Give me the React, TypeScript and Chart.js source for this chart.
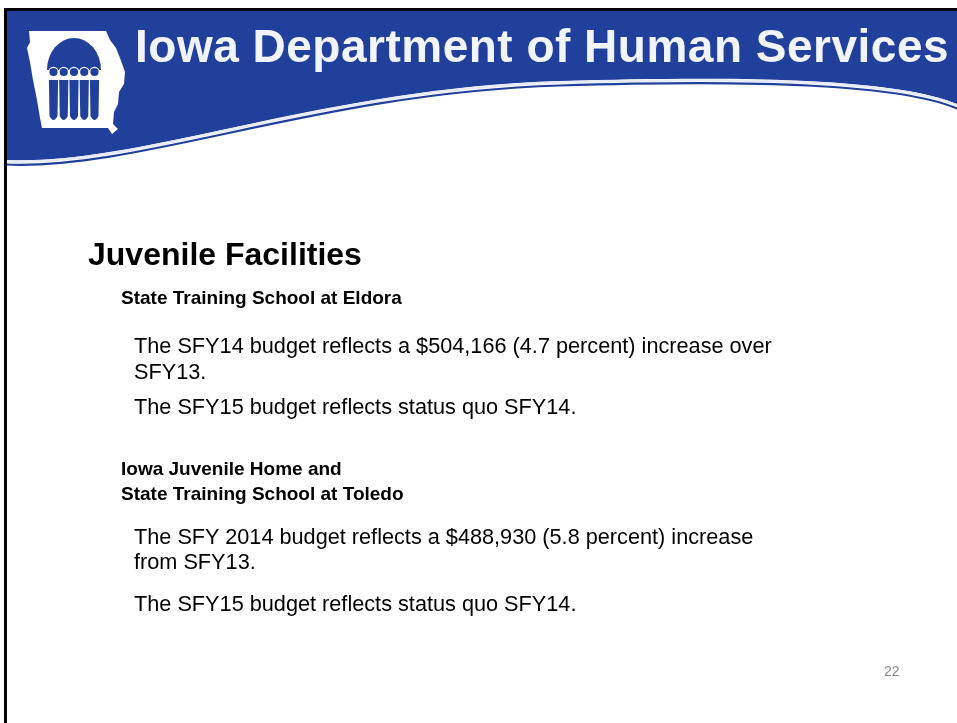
import React, { useEffect, useRef } from "react";
import { Chart, registerables } from "chart.js";

Chart.register(...registerables);

// ---- Slide content (data) ----
const bannerTitle = "Iowa Department of Human Services";
const slideTitle = "Juvenile Facilities";
const eldoraHeading = ["State Training School at Eldora"];
const eldoraParagraphs = [
  ["The SFY14 budget reflects a $504,166 (4.7 percent) increase over", "SFY13."],
  ["The SFY15 budget reflects status quo SFY14."],
];
const toledoHeading = ["Iowa Juvenile Home and", "State Training School at Toledo"];
const toledoParagraphs = [
  ["The SFY 2014 budget reflects a $488,930 (5.8 percent) increase", "from SFY13."],
  ["The SFY15 budget reflects status quo SFY14."],
];
const slideNumber = "22";

const W = 957;
const H = 723;
const BLUE = "#21409c";
const FONT = "'Liberation Sans', Arial, Helvetica, sans-serif";

const bannerPlugin = {
  id: "slideBanner",
  beforeDraw(chart: any) {
    const ctx = chart.ctx as CanvasRenderingContext2D;
    ctx.save();
    ctx.fillStyle = "#ffffff";
    ctx.fillRect(0, 0, W, H);

    // blue banner with wavy bottom edge
    const edge = (c: CanvasRenderingContext2D, dy: number) => {
      c.moveTo(6, 160 + dy);
      c.bezierCurveTo(140, 166 + dy, 320, 88 + dy, 560, 81 + dy);
      c.bezierCurveTo(760, 75 + dy, 900, 80 + dy, 957, 104 + dy);
    };
    ctx.beginPath();
    ctx.moveTo(6, 10);
    ctx.lineTo(W, 10);
    ctx.lineTo(W, 104);
    ctx.bezierCurveTo(900, 80, 760, 75, 560, 81);
    ctx.bezierCurveTo(320, 88, 140, 166, 6, 160);
    ctx.closePath();
    ctx.fillStyle = BLUE;
    ctx.fill();

    // white highlight + thin blue underline
    ctx.beginPath();
    edge(ctx, 1.5);
    ctx.strokeStyle = "#e8ecf8";
    ctx.lineWidth = 2.5;
    ctx.stroke();
    ctx.beginPath();
    edge(ctx, 4.5);
    ctx.strokeStyle = BLUE;
    ctx.lineWidth = 2.2;
    ctx.stroke();

    // Iowa state shape (white)
    ctx.beginPath();
    ctx.moveTo(29, 31);
    ctx.lineTo(106, 31);
    ctx.lineTo(110, 40);
    ctx.lineTo(116, 48);
    ctx.lineTo(120, 58);
    ctx.lineTo(125, 72);
    ctx.lineTo(124, 84);
    ctx.lineTo(119, 92);
    ctx.lineTo(118, 104);
    ctx.lineTo(114, 112);
    ctx.lineTo(113, 124);
    ctx.lineTo(118, 129);
    ctx.lineTo(112, 134);
    ctx.lineTo(108, 128);
    ctx.lineTo(42, 128);
    ctx.lineTo(40, 118);
    ctx.lineTo(37, 100);
    ctx.lineTo(33, 80);
    ctx.lineTo(30, 62);
    ctx.lineTo(27, 48);
    ctx.lineTo(30, 42);
    ctx.closePath();
    ctx.fillStyle = "#ffffff";
    ctx.fill();

    // dome
    ctx.beginPath();
    ctx.ellipse(74, 70, 27, 32, 0, Math.PI, 2 * Math.PI);
    ctx.closePath();
    ctx.fillStyle = BLUE;
    ctx.fill();

    // five figures
    const xs = [53.5, 63.75, 74, 84.25, 94.5];
    xs.forEach((x) => {
      ctx.fillStyle = BLUE;
      ctx.beginPath();
      ctx.moveTo(x - 4.6, 80);
      ctx.lineTo(x + 4.6, 80);
      ctx.lineTo(x + 4, 116);
      ctx.quadraticCurveTo(x, 124, x - 4, 116);
      ctx.closePath();
      ctx.fill();
      ctx.beginPath();
      ctx.arc(x, 72, 4.7, 0, 2 * Math.PI);
      ctx.fill();
      ctx.strokeStyle = "#ffffff";
      ctx.lineWidth = 1.2;
      ctx.stroke();
    });

    // black slide frame (top and left)
    ctx.fillStyle = "#000000";
    ctx.fillRect(4, 8, W - 4, 3);
    ctx.fillRect(4, 8, 3, H - 8);
    ctx.restore();
  },
};

function Line({ text, baseline, size, bold, left, color, spacing }: any) {
  const lh = size * 1.15;
  const top = baseline - 0.905 * size - (lh - 1.117 * size) / 2;
  return (
    <div
      style={{
        position: "absolute",
        left,
        top,
        fontFamily: FONT,
        fontSize: size,
        lineHeight: `${lh}px`,
        fontWeight: bold ? 700 : 400,
        letterSpacing: spacing ? `${spacing}px` : undefined,
        color: color || "#000",
        whiteSpace: "nowrap",
      }}
    >
      {text}
    </div>
  );
}

export default function App() {
  const ref = useRef<HTMLCanvasElement | null>(null);
  useEffect(() => {
    if (!ref.current) return;
    const chart = new Chart(ref.current, {
      type: "line",
      data: { labels: [], datasets: [] },
      options: {
        responsive: false,
        animation: false,
        events: [],
        plugins: { legend: { display: false }, tooltip: { enabled: false }, title: { display: false } },
        scales: { x: { display: false }, y: { display: false } },
      },
      plugins: [bannerPlugin],
    });
    return () => chart.destroy();
  }, []);

  const bodySize = 21.7;
  const headSize = 19;
  return (
    <div style={{ position: "fixed", left: 0, top: 0, width: W, height: H, background: "#fff", overflow: "hidden" }}>
      <canvas ref={ref} width={W} height={H} style={{ position: "absolute", left: 0, top: 0, width: W, height: H }} />
      <Line text={bannerTitle} baseline={62} size={46} bold left={135} color="#f2f4fc" spacing={0.5} />
      <Line text={slideTitle} baseline={265} size={32} bold left={88} />
      <Line text={eldoraHeading[0]} baseline={305} size={headSize} bold left={121} />
      <Line text={eldoraParagraphs[0][0]} baseline={354} size={bodySize} left={134} />
      <Line text={eldoraParagraphs[0][1]} baseline={380} size={bodySize} left={134} />
      <Line text={eldoraParagraphs[1][0]} baseline={415} size={bodySize} left={134} />
      <Line text={toledoHeading[0]} baseline={476} size={headSize} bold left={121} />
      <Line text={toledoHeading[1]} baseline={501} size={headSize} bold left={121} />
      <Line text={toledoParagraphs[0][0]} baseline={545} size={bodySize} left={134} />
      <Line text={toledoParagraphs[0][1]} baseline={570} size={bodySize} left={134} />
      <Line text={toledoParagraphs[1][0]} baseline={612} size={bodySize} left={134} />
      <Line text={slideNumber} baseline={676} size={14} left={884} color="#8a8a8a" />
    </div>
  );
}
